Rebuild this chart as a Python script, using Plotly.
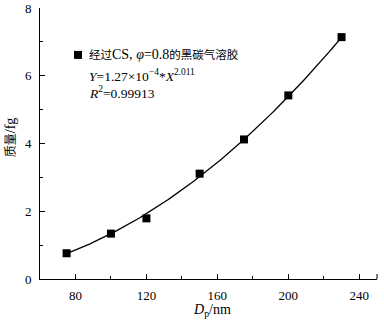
import numpy as np
import plotly.graph_objects as go

# data
dp_nm = [75, 100, 120, 150, 175, 200, 230]
mass_fg = [0.76, 1.34, 1.79, 3.11, 4.12, 5.42, 7.14]
fit_a = 1.27e-4
fit_b = 2.011
x_ticks = [80, 120, 160, 200, 240]
y_ticks = [0, 2, 4, 6, 8]

FONT = "Liberation Serif, Times New Roman, Noto Sans CJK SC, serif"
L, R, T, B = 40, 7, 7.5, 46
PW, PH = 384 - L - R, 325 - T - B

xf = np.linspace(min(dp_nm), max(dp_nm), 200)
yf = fit_a * xf ** fit_b

fig = go.Figure()
fig.add_trace(go.Scatter(x=xf, y=yf, mode="lines",
                         line=dict(color="black", width=1.3), showlegend=False))
fig.add_trace(go.Scatter(x=dp_nm, y=mass_fg, mode="markers",
                         marker=dict(symbol="square", size=8, color="black"),
                         showlegend=False))

fig.update_layout(
    width=384, height=325,
    margin=dict(l=L, r=R, t=T, b=B, autoexpand=False),
    paper_bgcolor="white", plot_bgcolor="white",
    font=dict(family=FONT, size=13, color="black"),
    xaxis=dict(range=[60, 250], tickvals=x_ticks, ticks="inside", ticklen=5,
               tickcolor="black", showline=True, linecolor="black", linewidth=1,
               showgrid=False, zeroline=False, ticklabelstandoff=4, automargin=False,
               minor=dict(tickvals=[100, 140, 180, 220], ticks="inside", ticklen=3,
                          tickcolor="black")),
    yaxis=dict(range=[0, 8], tickvals=y_ticks, ticks="inside", ticklen=5,
               tickcolor="black", showline=True, linecolor="black", linewidth=1,
               showgrid=False, zeroline=False, ticklabelstandoff=5, automargin=False,
               minor=dict(tickvals=[1, 3, 5, 7], ticks="inside", ticklen=3,
                          tickcolor="black")),
)

def px(xp):
    return (xp - L) / PW

def py(yp):
    return (325 - B - yp) / PH

def cjk(s, size=11.5):
    return f'<span style="font-size:{size}px">{s}</span>'

# axis titles
fig.add_annotation(xref="paper", yref="paper", x=px(212), y=py(300), xanchor="center",
                   yanchor="top", text="<i>D</i><sub>p</sub>/nm", showarrow=False,
                   font=dict(size=14, family=FONT))
fig.add_annotation(xref="paper", yref="paper", x=px(10), y=py(137), xanchor="center",
                   yanchor="middle", text=cjk("质量", 12) + "/fg", textangle=-90,
                   showarrow=False, font=dict(size=14, family=FONT))

# right end cap of x axis
fig.add_shape(type="line", xref="paper", yref="paper", x0=1, x1=1, y0=0, y1=5 / PH,
              line=dict(color="black", width=1))

# legend marker
fig.add_shape(type="rect", xref="paper", yref="paper", xsizemode="pixel", ysizemode="pixel",
              xanchor=px(78), yanchor=py(54.5),
              x0=-4, x1=4, y0=-4, y1=4, fillcolor="black", line=dict(width=0))

def ann(text, ypx, size):
    fig.add_annotation(xref="paper", yref="paper", x=px(87),
                       y=py(ypx), xanchor="left", yanchor="middle",
                       text=text, showarrow=False, font=dict(size=size, family=FONT))

ann(cjk("经过") + "CS, <i>φ</i>=0.8" + cjk("的黑碳气溶胶"), 54.5, 14)
ann("<i>Y</i>=1.27×10<sup>−4</sup>*<i>X</i><sup>2.011</sup>", 75.5, 13.5)
ann("<i>R</i><sup>2</sup>=0.99913", 92, 13.5)

fig.write_html("out.html", config={"displayModeBar": False},
               post_script="document.body.style.margin='0';")
